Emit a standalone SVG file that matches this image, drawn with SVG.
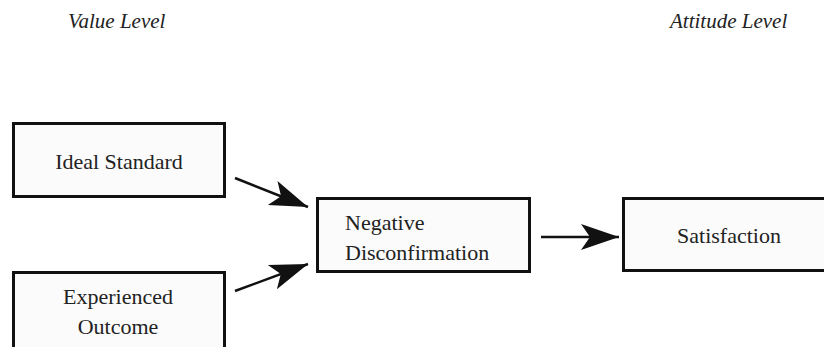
<svg xmlns="http://www.w3.org/2000/svg" width="824" height="347" viewBox="0 0 824 347">
  <style>
    .box { fill: #fbfbfb; stroke: #111; stroke-width: 3; }
    .edge { stroke: #111; stroke-width: 2.5; fill: none; }
  </style>
  <defs>
    <marker id="head" markerUnits="userSpaceOnUse" viewBox="-40 -15 42 30" refX="0" refY="0" markerWidth="42" markerHeight="30" orient="auto">
      <path d="M0,0 L-38,-13 L-29,0 L-38,13 Z" fill="#111"/>
    </marker>
  </defs>
  <rect width="824" height="347" fill="#ffffff"/>

  <!-- level headings -->
  <text x="68" y="28" font-family="Liberation Serif" font-size="21" font-style="italic" fill="#222">Value Level</text>
  <text x="670" y="28" font-family="Liberation Serif" font-size="21" font-style="italic" fill="#222">Attitude Level</text>

  <g id="ideal-standard">
    <rect class="box" x="13.5" y="123.5" width="211" height="73"/>
    <text x="119" y="169" font-family="Liberation Serif" font-size="22" fill="#222" text-anchor="middle">Ideal Standard</text>
  </g>

  <g id="experienced-outcome">
    <rect class="box" x="13.5" y="272.5" width="211" height="90"/>
    <text x="118" y="304" font-family="Liberation Serif" font-size="22" fill="#222" text-anchor="middle">Experienced</text>
    <text x="118" y="334" font-family="Liberation Serif" font-size="22" fill="#222" text-anchor="middle">Outcome</text>
  </g>

  <g id="negative-disconfirmation">
    <rect class="box" x="317.5" y="198.5" width="212" height="73"/>
    <text x="345" y="230" font-family="Liberation Serif" font-size="22" fill="#222">Negative</text>
    <text x="345" y="260" font-family="Liberation Serif" font-size="22" fill="#222">Disconfirmation</text>
  </g>

  <g id="satisfaction">
    <rect class="box" x="623.5" y="198.5" width="220" height="72"/>
    <text x="729" y="243" font-family="Liberation Serif" font-size="22" fill="#222" text-anchor="middle">Satisfaction</text>
  </g>

  <g id="connectors">
    <line class="edge" x1="235" y1="178" x2="308" y2="207" marker-end="url(#head)"/>
    <line class="edge" x1="235" y1="291" x2="308" y2="264" marker-end="url(#head)"/>
    <line class="edge" x1="541" y1="237" x2="619" y2="237" marker-end="url(#head)"/>
  </g>
</svg>
